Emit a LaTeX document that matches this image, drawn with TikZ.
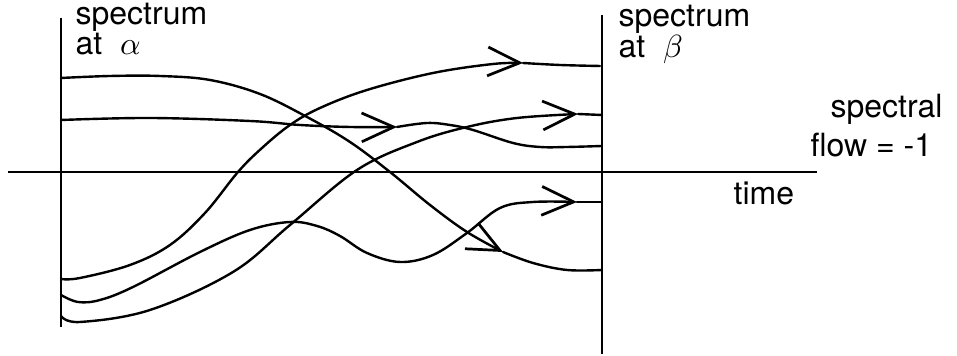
\documentclass[tikz,border=0pt]{standalone}
\usepackage{fontspec}
\setmainfont{TeX Gyre Heros}
\usetikzlibrary{arrows.meta}
\begin{document}
\begin{tikzpicture}[x=0.3125pt,y=-0.3125pt,
  curve/.style={line width=0.75pt, line cap=round},
  axis/.style={line width=0.7pt},
  barb/.style={curve, -{Straight Barb[length=10pt,width=9pt,line width=0.85pt]}},
  lbl/.style={anchor=base west, inner sep=0pt, font=\fontsize{10}{12}\selectfont}]
\useasboundingbox (0,0) rectangle (957,356);
% axes
\draw[axis] (8,172) -- (817,172);
\draw[axis] (61,18) -- (61,327);
\draw[axis] (602,15) -- (602,354);
% curve 1 (top, falling)
\draw[barb] plot[smooth,tension=0.6] coordinates {(61,78) (110,76) (160,76) (210,80) (260,94) (307,117) (350,142) (390,172) (430,205) (467,232) (503,252)};
\draw[curve] plot[smooth,tension=0.6] coordinates {(503,252) (533,263) (567,270) (602,270)};
% curve 2
\draw[barb] plot[smooth,tension=0.6] coordinates {(61,120) (150,118) (250,121) (300,125) (350,127) (397,127)};
\draw[curve] plot[smooth,tension=0.6] coordinates {(397,127) (427,123) (450,125) (473,130) (513,143) (540,147) (567,147) (602,146)};
% curve 3
\draw[barb] plot[smooth,tension=0.6] coordinates {(61,279) (80,278) (130,265) (170,245) (205,213) (238,172) (262,148) (290,125) (320,108) (367,90) (433,73) (493,64) (523,63)};
\draw[curve] plot[smooth,tension=0.6] coordinates {(523,63) (560,65) (600,66)};
% curve 4
\draw[barb] plot[smooth,tension=0.6] coordinates {(61,295) (78,302) (100,300) (133,287) (200,252) (250,230) (290,222) (317,226) (340,236) (367,253) (400,262) (433,255) (467,233) (500,208) (533,202) (577,202)};
\draw[curve] (577,202) -- (602,202);
% curve 5
\draw[barb] plot[smooth,tension=0.6] coordinates {(61,316) (80,322) (150,310) (233,272) (290,225) (357,170) (417,142) (467,127) (517,118) (578,114)};
\draw[curve] (578,114) -- (602,115);
% labels
\node[lbl] (sa1) at (75,25) {spectrum};
\node[lbl] (sa2) at (75,55) {at\ \ $\alpha$};
\node[lbl] (sb1) at (618,27) {spectrum};
\node[lbl] (sb2) at (618,58) {at\ \ $\beta$};
\node[lbl] (sf1) at (830,118) {spectral};
\node[lbl] (sf2) at (810,157) {flow = -1};
\node[lbl] (tm) at (733,205) {time};
\end{tikzpicture}
\end{document}
